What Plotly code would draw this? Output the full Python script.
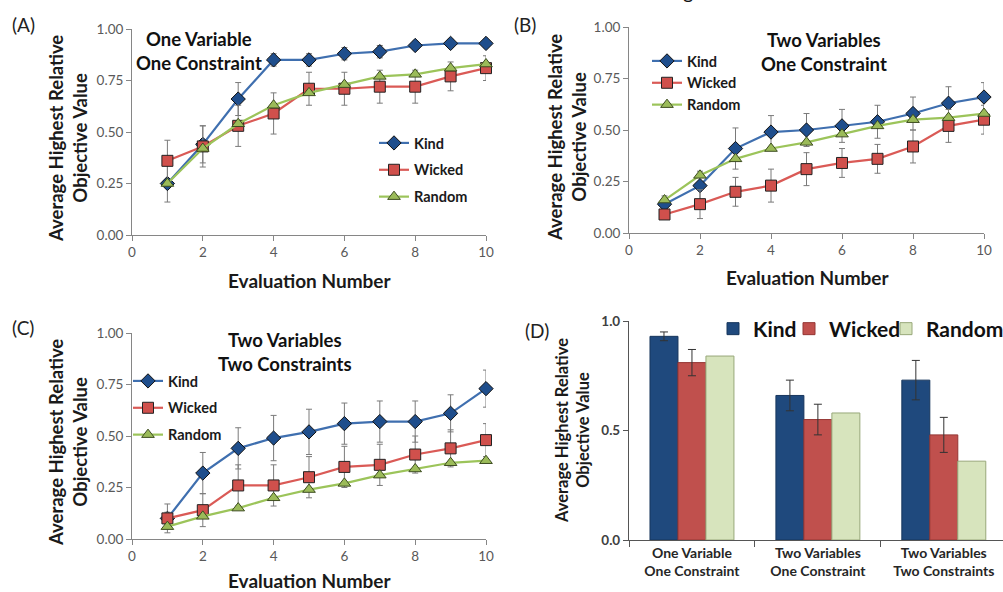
import plotly.graph_objects as go

W, H = 1003, 592

# ---------------- data ----------------
eval_num = [1, 2, 3, 4, 5, 6, 7, 8, 9, 10]

a_kind = [0.25, 0.44, 0.66, 0.85, 0.85, 0.88, 0.89, 0.92, 0.93, 0.93]
a_kind_err = [0.09, 0.09, 0.08, 0.03, 0.03, 0.03, 0.03, 0.02, 0.02, 0.02]
a_wicked = [0.36, 0.43, 0.53, 0.59, 0.71, 0.71, 0.72, 0.72, 0.77, 0.81]
a_wicked_err = [0.10, 0.10, 0.10, 0.10, 0.08, 0.08, 0.08, 0.08, 0.07, 0.06]
a_random = [0.25, 0.42, 0.54, 0.63, 0.69, 0.73, 0.77, 0.78, 0.81, 0.83]

b_kind = [0.14, 0.23, 0.41, 0.49, 0.50, 0.52, 0.54, 0.58, 0.63, 0.66]
b_kind_err = [0.04, 0.07, 0.10, 0.08, 0.08, 0.08, 0.08, 0.08, 0.08, 0.07]
b_wicked = [0.09, 0.14, 0.20, 0.23, 0.31, 0.34, 0.36, 0.42, 0.52, 0.55]
b_wicked_err = [0.02, 0.07, 0.07, 0.08, 0.08, 0.07, 0.07, 0.08, 0.08, 0.07]
b_random = [0.16, 0.28, 0.36, 0.41, 0.44, 0.48, 0.52, 0.55, 0.56, 0.58]

c_kind = [0.10, 0.32, 0.44, 0.49, 0.52, 0.56, 0.57, 0.57, 0.61, 0.73]
c_kind_err = [0.07, 0.10, 0.10, 0.11, 0.11, 0.10, 0.10, 0.10, 0.09, 0.09]
c_wicked = [0.10, 0.14, 0.26, 0.26, 0.30, 0.35, 0.36, 0.41, 0.44, 0.48]
c_wicked_err = [0.03, 0.08, 0.10, 0.10, 0.10, 0.10, 0.10, 0.09, 0.09, 0.08]
c_random = [0.06, 0.11, 0.15, 0.20, 0.24, 0.27, 0.31, 0.34, 0.37, 0.38]

d_categories = ["One Variable<br>One Constraint",
                "Two Variables<br>One Constraint",
                "Two Variables<br>Two Constraints"]
d_kind = [0.93, 0.66, 0.73]
d_kind_err = [0.02, 0.07, 0.09]
d_wicked = [0.81, 0.55, 0.48]
d_wicked_err = [0.06, 0.07, 0.08]
d_random = [0.84, 0.58, 0.36]

x_ticks = [0, 2, 4, 6, 8, 10]
y_ticks = [0, 0.25, 0.5, 0.75, 1.0]
d_y_ticks = [0, 0.5, 1.0]

panel_titles = ["One Variable<br>One Constraint",
                "Two Variables<br>One Constraint",
                "Two Variables<br>Two Constraints"]
y_title = "Average Highest Relative<br>Objective Value"
x_title = "Evaluation Number"

# ---------------- style ----------------
FONT = "Lato"
KIND_LINE, KIND_FILL = "#3F6FAF", "#1F4E8C"
WICK_LINE, WICK_FILL = "#DA5A56", "#D0504C"
RAND_LINE, RAND_FILL = "#9CC45A", "#9BBB59"
AXIS_COL = "#868686"
ERR_COL = "#7a7a7a"


def px(x):
    return x / W


def py(y):
    return 1 - y / H


fig = go.Figure()

panels = [
    ("x", "y", "legend", a_kind, a_kind_err, a_wicked, a_wicked_err, a_random),
    ("x2", "y2", "legend2", b_kind, b_kind_err, b_wicked, b_wicked_err, b_random),
    ("x3", "y3", "legend3", c_kind, c_kind_err, c_wicked, c_wicked_err, c_random),
]

for xa, ya, lg, k, ke, wv, we, r in panels:
    fig.add_trace(go.Scatter(
        x=eval_num, y=k, name="Kind", mode="lines+markers", xaxis=xa, yaxis=ya,
        legend=lg, legendgroup=lg + "k", cliponaxis=False,
        line=dict(color=KIND_LINE, width=2.2),
        marker=dict(symbol="diamond", size=11, color=KIND_FILL,
                    line=dict(color="#111", width=1)),
        error_y=dict(type="data", array=ke, visible=True, color=ERR_COL,
                     thickness=1, width=3)))
    fig.add_trace(go.Scatter(
        x=eval_num, y=wv, name="Wicked", mode="lines+markers", xaxis=xa, yaxis=ya,
        legend=lg, legendgroup=lg + "w", cliponaxis=False,
        line=dict(color=WICK_LINE, width=2.2),
        marker=dict(symbol="square", size=11, color=WICK_FILL,
                    line=dict(color="#222", width=1)),
        error_y=dict(type="data", array=we, visible=True, color=ERR_COL,
                     thickness=1, width=3)))
    fig.add_trace(go.Scatter(
        x=eval_num, y=r, name="Random", mode="lines+markers", xaxis=xa, yaxis=ya,
        legend=lg, legendgroup=lg + "r", cliponaxis=False,
        line=dict(color=RAND_LINE, width=2.2),
        marker=dict(symbol="triangle-up", size=11, color=RAND_FILL,
                    line=dict(color="#3d4d20", width=1))))

# panel D bars (each in its own one-item legend so the entries can sit close together)
fig.add_trace(go.Bar(x=d_categories, y=d_kind, name="Kind", xaxis="x4", yaxis="y4",
                     legend="legend4",
                     marker=dict(color="#1F497D", line=dict(color="#17365D", width=1)),
                     error_y=dict(type="data", array=d_kind_err, color="#333",
                                  thickness=1, width=4)))
fig.add_trace(go.Bar(x=d_categories, y=d_wicked, name="Wicked", xaxis="x4", yaxis="y4",
                     legend="legend5",
                     marker=dict(color="#C0504D", line=dict(color="#943634", width=1)),
                     error_y=dict(type="data", array=d_wicked_err, color="#333",
                                  thickness=1, width=4)))
fig.add_trace(go.Bar(x=d_categories, y=d_random, name="Random", xaxis="x4", yaxis="y4",
                     legend="legend6",
                     marker=dict(color="#D7E4BD", line=dict(color="#98A87A", width=1))))

tickfont = dict(family=FONT, size=13.5, color="#595959")


def line_xaxis(dom, anchor):
    return dict(domain=dom, anchor=anchor, range=[0, 10], tickvals=x_ticks,
                showline=True, linecolor=AXIS_COL, linewidth=1, ticks="outside",
                ticklen=5, tickcolor=AXIS_COL, showgrid=False, zeroline=False,
                tickfont=tickfont, fixedrange=True)


def line_yaxis(dom, anchor):
    return dict(domain=dom, anchor=anchor, range=[0, 1], tickvals=y_ticks,
                tickformat=".2f", showline=True, linecolor=AXIS_COL, linewidth=1,
                ticks="outside", ticklen=5, tickcolor=AXIS_COL, showgrid=False,
                zeroline=False, tickfont=tickfont, fixedrange=True)


xa_dom = [px(132), px(486)]
xb_dom = [px(629), px(984)]
ya_dom = [py(235), py(29)]
yb_dom = [py(233), py(27)]
yc_dom = [py(539), py(333)]
yd_dom = [py(540), py(321)]

legend_common = dict(bgcolor="rgba(0,0,0,0)", borderwidth=0, traceorder="grouped",
                     orientation="v", xanchor="left", yanchor="top", itemwidth=30)
leg_font = dict(family=FONT, size=14.5, color="#1a1a1a", weight="bold")
dleg_font = dict(family=FONT, size=21, color="#111", weight="bold")


def dlegend(square_center_x):
    # plotly puts the swatch centre about 20 px right of the legend's left edge
    return dict(bgcolor="rgba(0,0,0,0)", orientation="v", x=px(square_center_x - 20),
                y=py(329), xanchor="left", yanchor="middle", itemwidth=30,
                font=dleg_font)


fig.update_layout(
    width=W, height=H, autosize=False,
    margin=dict(l=0, r=0, t=0, b=0, autoexpand=False),
    paper_bgcolor="white", plot_bgcolor="white",
    font=dict(family=FONT, color="#1a1a1a"),
    barmode="group", bargap=1 / 3, bargroupgap=0,
    xaxis=line_xaxis(xa_dom, "y"),
    yaxis=line_yaxis(ya_dom, "x"),
    xaxis2=line_xaxis(xb_dom, "y2"),
    yaxis2=line_yaxis(yb_dom, "x2"),
    xaxis3=line_xaxis(xa_dom, "y3"),
    yaxis3=line_yaxis(yc_dom, "x3"),
    xaxis4=dict(domain=[px(629), 1.0], anchor="y4", range=[-0.5, 2.47],
                showline=True, linecolor="#555", linewidth=1.2, ticks="outside",
                tickson="boundaries", ticklen=6, tickcolor="#555", showgrid=False,
                tickfont=dict(family=FONT, size=14, color="#262626", weight="bold"),
                fixedrange=True),
    yaxis4=dict(domain=yd_dom, anchor="x4", range=[0, 1], tickvals=d_y_ticks,
                tickformat=".1f", showline=True, linecolor="#555", linewidth=1.2,
                ticks="outside", ticklen=5, tickcolor="#555", showgrid=False,
                zeroline=False,
                tickfont=dict(family=FONT, size=13.5, color="#404040", weight="bold"),
                fixedrange=True),
    legend=dict(legend_common, x=px(374), y=py(127), tracegroupgap=5, font=leg_font),
    legend2=dict(legend_common, x=px(647), y=py(45), tracegroupgap=0, font=leg_font),
    legend3=dict(legend_common, x=px(128), y=py(365), tracegroupgap=5, font=leg_font),
    legend4=dlegend(733),
    legend5=dlegend(809),
    legend6=dlegend(906),
)

ann = []
# panel labels
for txt, x, y in [("(A)", 10, 24), ("(B)", 512, 24), ("(C)", 10, 327), ("(D)", 523, 330)]:
    ann.append(dict(text=txt, x=px(x), y=py(y), xref="paper", yref="paper",
                    xanchor="left", yanchor="middle", showarrow=False,
                    font=dict(family=FONT, size=19, color="#222")))
# panel titles
for txt, x, y in [(panel_titles[0], 199, 51), (panel_titles[1], 824, 52),
                  (panel_titles[2], 285, 352)]:
    ann.append(dict(text=txt, x=px(x), y=py(y), xref="paper", yref="paper",
                    xanchor="center", yanchor="middle", showarrow=False,
                    font=dict(family=FONT, size=18.5, color="#111", weight="bold")))
# y titles
for x, y, s in [(68, 139, 18.5), (567, 138, 18.5), (68, 443, 18.5), (572, 431, 16.5)]:
    ann.append(dict(text=y_title, x=px(x), y=py(y), xref="paper", yref="paper",
                    xanchor="center", yanchor="middle", showarrow=False, textangle=-90,
                    font=dict(family=FONT, size=s, color="#1a1a1a", weight="bold")))
# x titles
for x, y in [(309, 280), (807, 277), (309, 580)]:
    ann.append(dict(text=x_title, x=px(x), y=py(y), xref="paper", yref="paper",
                    xanchor="center", yanchor="middle", showarrow=False,
                    font=dict(family=FONT, size=19, color="#1a1a1a", weight="bold")))
# cut-off caption fragment at top
ann.append(dict(text="g", x=px(688), y=py(5), xref="paper", yref="paper",
                xanchor="center", yanchor="bottom", showarrow=False,
                font=dict(family=FONT, size=20, color="#111")))
fig.update_layout(annotations=ann)

fig.write_html("out.html", config={"displayModeBar": False},
               post_script="document.body.style.margin='0';document.body.style.overflow='hidden';")
